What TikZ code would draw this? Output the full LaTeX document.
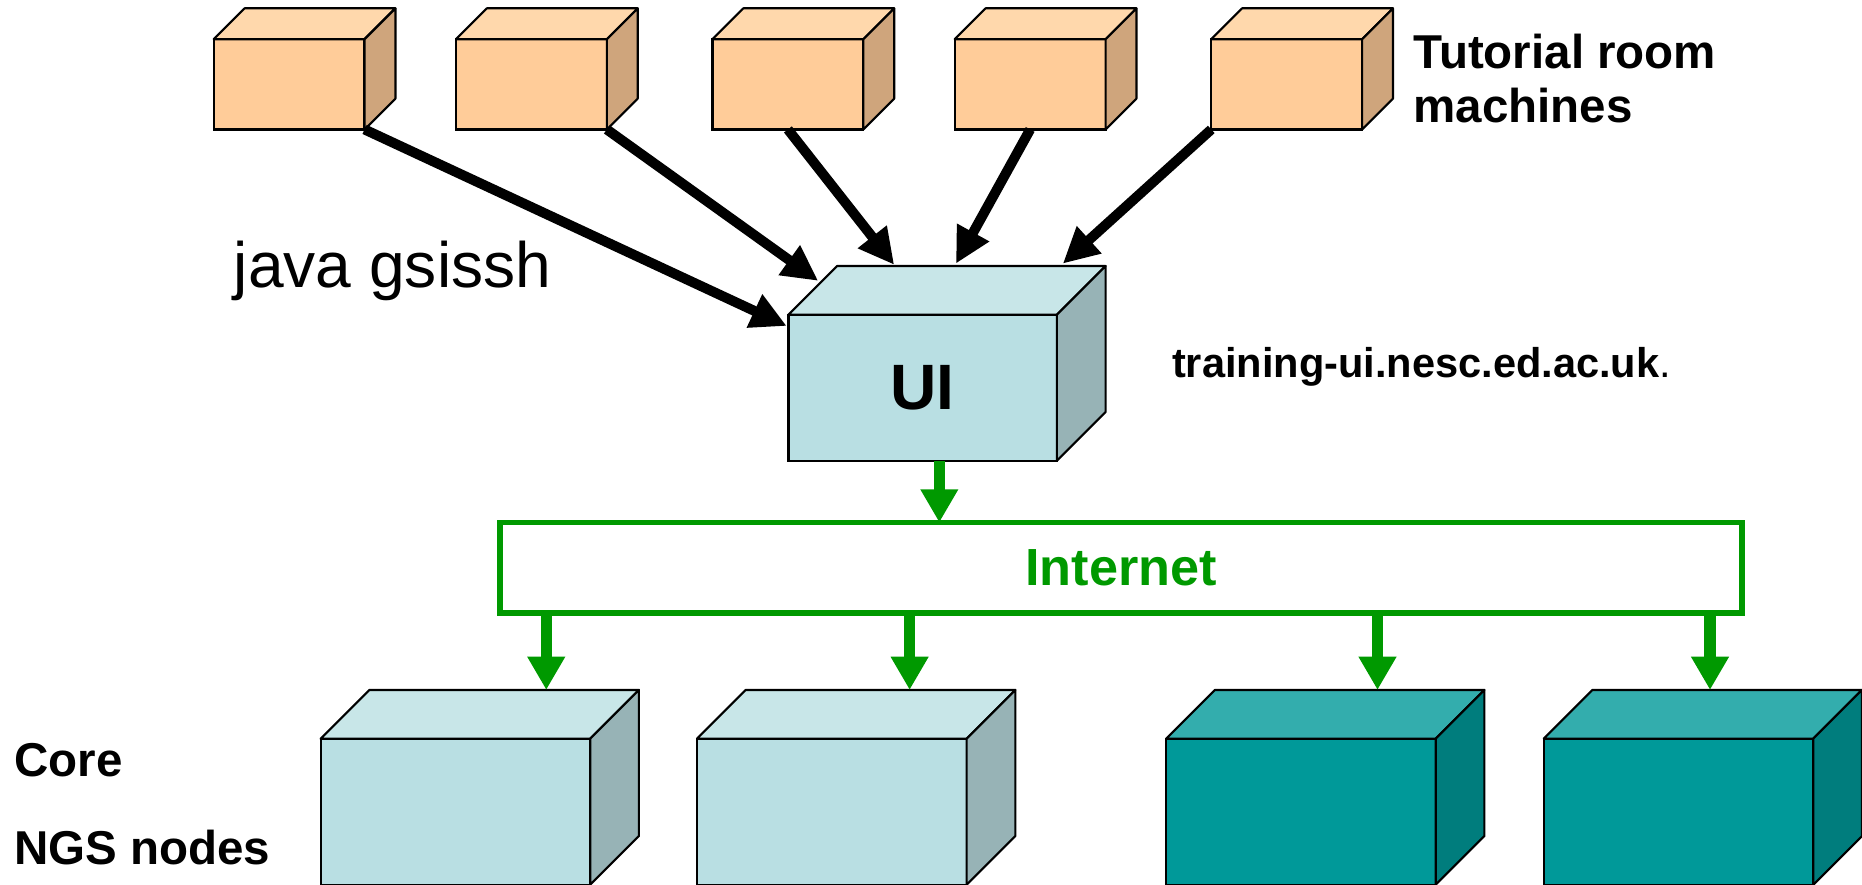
\documentclass[tikz,border=0pt]{standalone}
\usepackage{fontspec}
\setmainfont{Liberation Sans}
\usetikzlibrary{arrows.meta,calc}
\definecolor{orF}{HTML}{FFCC99}
\definecolor{orT}{HTML}{FFD8AC}
\definecolor{orS}{HTML}{CFA57C}
\definecolor{lbF}{HTML}{B9DFE3}
\definecolor{lbT}{HTML}{C8E6E8}
\definecolor{lbS}{HTML}{97B3B6}
\definecolor{tlF}{HTML}{009999}
\definecolor{tlT}{HTML}{33ADAD}
\definecolor{tlS}{HTML}{007D7D}
\definecolor{netgreen}{HTML}{009900}
\tikzset{
  cubefront/.style={draw=black, line width=0.9pt, inner sep=0pt, outer sep=0pt},
  cubeface/.style={draw=black, line width=0.9pt, line join=round},
  blkarrow/.style={draw=black, line width=4.2pt, -{Triangle[length=15pt,width=14.5pt]}},
  grnarrow/.style={draw=netgreen, line width=4.8pt, -{Triangle[length=14pt,width=15pt]}},
  lbl/.style={inner sep=0pt, outer sep=0pt, anchor=base west},
}
% name, centre, width, height, depth, front, top, side, text
\newcommand\mkcube[9]{%
  \node[cubefront, fill=#6, minimum width=#3, minimum height=#4] (#1) at #2 {#9};
  \coordinate (#1-tl) at ($(#1.north west)+(#5,-#5)$);
  \coordinate (#1-tr) at ($(#1.north east)+(#5,-#5)$);
  \coordinate (#1-br) at ($(#1.south east)+(#5,-#5)$);
  \draw[cubeface, fill=#7] (#1.north west) -- (#1-tl) -- (#1-tr) -- (#1.north east) -- cycle;
  \draw[cubeface, fill=#8] (#1.north east) -- (#1-tr) -- (#1-br) -- (#1.south east) -- cycle;
}
\begin{document}
\begin{tikzpicture}[x=0.5pt, y=-0.5pt]
\useasboundingbox (0,0) rectangle (1568,745);

% tutorial room machines
\mkcube{m1}{(243.5,71)}{63.5pt}{38pt}{26}{orF}{orT}{orS}{}
\mkcube{m2}{(447.5,71)}{63.5pt}{38pt}{26}{orF}{orT}{orS}{}
\mkcube{m3}{(663.5,71)}{63.5pt}{38pt}{26}{orF}{orT}{orS}{}
\mkcube{m4}{(867.5,71)}{63.5pt}{38pt}{26}{orF}{orT}{orS}{}
\mkcube{m5}{(1083.5,71)}{63.5pt}{38pt}{26}{orF}{orT}{orS}{}

\node[inner sep=0pt, anchor=north west, align=left,
      font=\fontsize{20}{23}\selectfont\bfseries] (tut) at (1190,28) {Tutorial room\\machines};

% UI
\mkcube{ui}{(777,326.5)}{113pt}{61.5pt}{41}{lbF}{lbT}{lbS}{\fontsize{27}{30}\selectfont\bfseries UI}

\node[lbl, font=\fontsize{27}{30}\selectfont] (java) at (197,242) {java gsissh};
\node[lbl, font=\fontsize{17.5}{20}\selectfont] (host) at (987,318) {\textbf{training-ui.nesc.ed.ac.uk}.};

% arrows to UI
\draw[blkarrow] (m1.south east) -- ($(ui.north west)+(-1.5,9.5)$);
\draw[blkarrow] (m2.south east) -- ($(ui.north west)+(25,-28.5)$);
\draw[blkarrow] (m3.south) -- ($(ui-tl)+(48,-1)$);
\draw[blkarrow] (m4.south) -- ($(ui-tl)+(100,-2)$);
\draw[blkarrow] (m5.south west) -- ($(ui-tl)+(190,-2)$);

% Internet
\node[draw=netgreen, line width=2.5pt, inner sep=0pt, outer sep=0pt,
      minimum width=523pt, minimum height=38pt, text=netgreen,
      font=\fontsize{22}{24}\selectfont\bfseries] (net) at (944,478) {Internet};

\coordinate (g0) at ($(ui.south)+(14,0)$);
\draw[grnarrow] (g0) -- (g0 |- net.north);

% core NGS nodes
\mkcube{ca}{(383.5,683.5)}{113.5pt}{61.5pt}{41}{lbF}{lbT}{lbS}{}
\mkcube{cb}{(700.5,683.5)}{113.5pt}{61.5pt}{41}{lbF}{lbT}{lbS}{}
\mkcube{cc}{(1095.5,683.5)}{113.5pt}{61.5pt}{41}{tlF}{tlT}{tlS}{}
\mkcube{cd}{(1413.5,683.5)}{113.5pt}{61.5pt}{41}{tlF}{tlT}{tlS}{}

\coordinate (s1) at ($(net.south west)+(39,0)$);
\coordinate (s2) at ($(net.south west)+(345,0)$);
\coordinate (s3) at ($(net.south west)+(739,0)$);
\coordinate (s4) at ($(net.south west)+(1019,0)$);
\draw[grnarrow] (s1) -- (s1 |- ca-tl);
\draw[grnarrow] (s2) -- (s2 |- cb-tl);
\draw[grnarrow] (s3) -- (s3 |- cc-tl);
\draw[grnarrow] (s4) -- (s4 |- cd-tl);

\node[lbl, font=\fontsize{20}{23}\selectfont\bfseries] (core) at (12,654) {Core};
\node[lbl, font=\fontsize{20}{23}\selectfont\bfseries] (ngs) at (12,728) {NGS nodes};
\end{tikzpicture}
\end{document}
